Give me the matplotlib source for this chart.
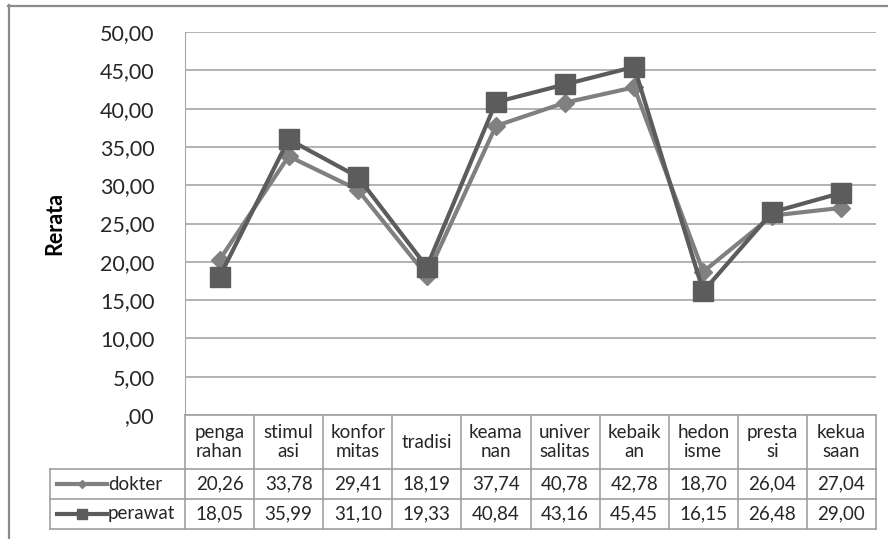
import matplotlib.pyplot as plt
from matplotlib.lines import Line2D
import numpy as np

plt.rcParams['font.family'] = ['Lato', 'DejaVu Sans']

# categories as printed in the table header (wrapped like the sheet)
categories = ["penga\nrahan", "stimul\nasi", "konfor\nmitas", "tradisi", "keama\nnan",
              "univer\nsalitas", "kebaik\nan", "hedon\nisme", "presta\nsi", "kekua\nsaan"]
dokter = [20.26, 33.78, 29.41, 18.19, 37.74, 40.78, 42.78, 18.70, 26.04, 27.04]
perawat = [18.05, 35.99, 31.10, 19.33, 40.84, 43.16, 45.45, 16.15, 26.48, 29.00]
y_ticks = [0, 5, 10, 15, 20, 25, 30, 35, 40, 45, 50]
y_ticklabels = [",00", "5,00", "10,00", "15,00", "20,00", "25,00",
                "30,00", "35,00", "40,00", "45,00", "50,00"]

W, H = 888, 539
text_col = "#262626"
grid_col = "#a6a6a6"
# name, values, colour, marker, marker size (plot), marker size (table key)
series = [("dokter", dokter, "#808080", "D", 9, 4.5),
          ("perawat", perawat, "#5c5c5c", "s", 14, 7)]


def fig_box(x0, y0, x1, y1):
    # pixel box (top-left origin) -> figure fraction rect
    return [x0 / W, 1 - y1 / H, (x1 - x0) / W, (y1 - y0) / H]


fig = plt.figure(figsize=(W / 100, H / 100), dpi=100)

# outer chart frame
fig.add_artist(Line2D([8.5 / W, 8.5 / W], [0, 1 - 5 / H], color="#8c8c8c", lw=1.6))
fig.add_artist(Line2D([8 / W, 1], [1 - 5.5 / H, 1 - 5.5 / H], color="#8c8c8c", lw=1.6))

ax = fig.add_axes(fig_box(185, 32, 876, 415))
x = np.arange(len(categories))
for name, vals, col, mk, ms, _ in series:
    ax.plot(x, vals, color=col, lw=3, marker=mk, markersize=ms, label=name, zorder=3)
ax.set_xlim(-0.5, len(categories) - 0.5)
ax.set_ylim(0, 50)
ax.set_yticks(y_ticks)
ax.set_yticklabels(y_ticklabels, fontsize=15.5, color=text_col)
ax.tick_params(axis="y", length=0, pad=22)
ax.set_xticks([])
ax.grid(axis="y", color=grid_col, lw=1.2)
for s in ["top", "right", "bottom"]:
    ax.spines[s].set_visible(False)
ax.spines["left"].set_color(grid_col)
ax.set_ylabel("Rerata", fontsize=15.5, fontweight="bold", color="black", labelpad=25)

# data table under the plot, sharing the category scale
col_w = 691 / len(categories)
x_left = -0.5 - 135 / col_w
tb = fig.add_axes(fig_box(50, 415, 876, 529))
tb.set_xlim(x_left, len(categories) - 0.5)
tb.set_ylim(114, 0)
tb.axis("off")
row_y = [0, 54, 84, 114]
tcol = "#a0a0a0"
tb.plot([-0.5, len(categories) - 0.5], [0, 0], color=tcol, lw=1.2, clip_on=False)
for yy in row_y[1:]:
    tb.plot([x_left, len(categories) - 0.5], [yy, yy], color=tcol, lw=1.2, clip_on=False)
for i in range(len(categories) + 1):
    tb.plot([i - 0.5, i - 0.5], [0, 114], color=tcol, lw=1.2, clip_on=False)
tb.plot([x_left, x_left], [54, 114], color=tcol, lw=1.2, clip_on=False)

for i, c in enumerate(categories):
    tb.text(i, 27, c, ha="center", va="center", fontsize=13.5, color=text_col, linespacing=1.1)
for r, (name, vals, col, mk, ms, key_ms) in enumerate(series):
    yc = (row_y[r + 1] + row_y[r + 2]) / 2
    for i, v in enumerate(vals):
        tb.text(i, yc, f"{v:.2f}".replace(".", ","), ha="center", va="center",
                fontsize=13.5, color=text_col)
    lx0 = x_left + 7 / col_w
    lx1 = x_left + 57 / col_w
    tb.plot([lx0, lx1], [yc, yc], color=col, lw=3, clip_on=False)
    tb.plot([(lx0 + lx1) / 2], [yc], marker=mk, color=col,
            markersize=key_ms, clip_on=False)
    tb.text(x_left + 58 / col_w, yc, name, ha="left", va="center",
            fontsize=13.5, color=text_col)

fig.savefig("out.png", dpi=100)
